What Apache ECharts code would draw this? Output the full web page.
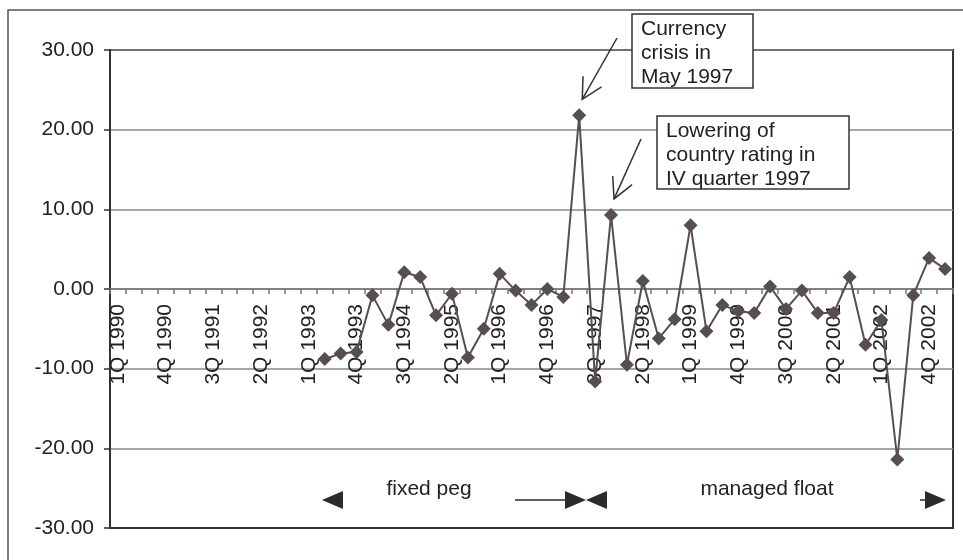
<!DOCTYPE html>
<html>
<head>
<meta charset="utf-8">
<style>
  html, body { margin: 0; padding: 0; background: #fff; }
  #chart { width: 963px; height: 560px; }
</style>
<script src="https://cdn.jsdelivr.net/npm/echarts@6/dist/echarts.min.js"></script>
</head>
<body>
<div id="chart"></div>
<script>
// Quarterly categories, 1Q 1990 .. 1Q 2003
const quarters = [
  '1Q 1990','2Q 1990','3Q 1990','4Q 1990',
  '1Q 1991','2Q 1991','3Q 1991','4Q 1991',
  '1Q 1992','2Q 1992','3Q 1992','4Q 1992',
  '1Q 1993','2Q 1993','3Q 1993','4Q 1993',
  '1Q 1994','2Q 1994','3Q 1994','4Q 1994',
  '1Q 1995','2Q 1995','3Q 1995','4Q 1995',
  '1Q 1996','2Q 1996','3Q 1996','4Q 1996',
  '1Q 1997','2Q 1997','3Q 1997','4Q 1997',
  '1Q 1998','2Q 1998','3Q 1998','4Q 1998',
  '1Q 1999','2Q 1999','3Q 1999','4Q 1999',
  '1Q 2000','2Q 2000','3Q 2000','4Q 2000',
  '1Q 2001','2Q 2001','3Q 2001','4Q 2001',
  '1Q 2002','2Q 2002','3Q 2002','4Q 2002',
  '1Q 2003'
];

// Quarterly values (no observations before 2Q 1993)
const values = [
  null, null, null, null,
  null, null, null, null,
  null, null, null, null,
  null, -8.8, -8.1, -7.9,
  -0.8, -4.5, 2.1, 1.5,
  -3.3, -0.6, -8.6, -5.0,
  1.9, -0.2, -2.0, 0.0,
  -1.0, 21.8, -11.6, 9.3,
  -9.5, 1.0, -6.2, -3.8,
  8.0, -5.3, -2.0, -2.8,
  -3.0, 0.3, -2.5, -0.2,
  -3.0, -3.0, 1.5, -7.0,
  -3.9, -21.4, -0.8, 3.9,
  2.5
];

// Value axis ticks
const yTicks = [-30, -20, -10, 0, 10, 20, 30];

// Event notes and the quarter each one points at
const notes = [
  { lines: ['Currency', 'crisis in', 'May 1997'], quarter: '2Q 1997' },
  { lines: ['Lowering of', 'country rating in', 'IV quarter 1997'], quarter: '4Q 1997' }
];

// Exchange-rate regime labels
const regimes = ['fixed peg', 'managed float'];

const FONT = '"Liberation Sans", Arial, sans-serif';
const LINE = '#574f4d';
const INK = '#222';
const GRID_BOTTOM = 32;

const chart = echarts.init(document.getElementById('chart'), null, { renderer: 'canvas' });

chart.setOption({
  animation: false,
  backgroundColor: '#fff',
  grid: {
    left: 110, top: 50, right: 10, bottom: GRID_BOTTOM,
    outerBoundsMode: 'none',
    containLabel: false,
    show: true, borderColor: '#333', borderWidth: 2, backgroundColor: 'transparent'
  },
  xAxis: {
    type: 'category',
    data: quarters,
    boundaryGap: true,
    position: 'bottom',
    offset: 0,
    axisLine: { onZero: false, lineStyle: { color: '#777', width: 1.5 } },
    axisTick: { show: true, interval: 0, length: 5, lineStyle: { color: '#777', width: 1.5 } },
    axisLabel: {
      interval: 2, rotate: 90, margin: 15,
      fontFamily: FONT, fontSize: 21, color: INK
    },
    splitLine: { show: false }
  },
  yAxis: {
    type: 'value',
    min: yTicks[0], max: yTicks[yTicks.length - 1], interval: 10,
    axisLine: { show: true, lineStyle: { color: '#333', width: 2 } },
    axisTick: { show: true, length: 6, lineStyle: { color: '#333', width: 1.5 } },
    axisLabel: {
      margin: 16, fontFamily: FONT, fontSize: 21, color: INK,
      formatter: v => v.toFixed(2)
    },
    splitLine: { show: true, lineStyle: { color: '#888', width: 1.5 } }
  },
  series: [{
    type: 'line',
    data: values,
    symbol: 'diamond',
    symbolSize: 14,
    showSymbol: true,
    showAllSymbol: true,
    lineStyle: { color: LINE, width: 2 },
    itemStyle: { color: LINE },
    z: 3
  }]
});

// lift the category axis (line, ticks and labels) up to the zero level
const zeroY = chart.convertToPixel({ yAxisIndex: 0 }, 0);
const bottomY = chart.getHeight() - GRID_BOTTOM;
chart.setOption({ xAxis: { offset: -(bottomY - zeroY) } });

// Annotations: note boxes with arrows, regime arrows, outer frame
function arrowHead(tip, tail, len, spread) {
  const ang = Math.atan2(tail[1] - tip[1], tail[0] - tip[0]);
  const a1 = ang + spread, a2 = ang - spread;
  return [
    [tip[0] + len * Math.cos(a1), tip[1] + len * Math.sin(a1)],
    tip,
    [tip[0] + len * Math.cos(a2), tip[1] + len * Math.sin(a2)]
  ];
}

const noteBoxes = [
  { x: 632, y: 14, w: 121, h: 74, tail: [617, 38] },
  { x: 657, y: 116, w: 192, h: 73, tail: [641, 139] }
];

const graphics = [];

// outer chart frame
graphics.push({
  type: 'rect', silent: true, z: 0,
  shape: { x: 8, y: 10, width: 1000, height: 600 },
  style: { fill: null, stroke: '#555', lineWidth: 1.5 }
});

// plot frame bottom edge (the axis line now sits at zero)
graphics.push({
  type: 'line', silent: true, z: 5,
  shape: { x1: 110, y1: bottomY, x2: 953, y2: bottomY },
  style: { stroke: '#333', lineWidth: 2 }
});

notes.forEach((n, i) => {
  const b = noteBoxes[i];
  const idx = quarters.indexOf(n.quarter);
  const p = chart.convertToPixel({ seriesIndex: 0 }, [idx, values[idx]]);
  const tip = [p[0] + 3, p[1] - 16];
  graphics.push({
    type: 'rect', z: 10,
    shape: { x: b.x, y: b.y, width: b.w, height: b.h },
    style: { fill: '#fff', stroke: '#333', lineWidth: 1.5 }
  });
  graphics.push({
    type: 'text', z: 11,
    x: b.x + 9, y: b.y + 3,
    style: {
      text: n.lines.join('\n'), font: '21px ' + FONT, fill: INK,
      lineHeight: 24, align: 'left', verticalAlign: 'top'
    }
  });
  graphics.push({
    type: 'line', z: 10,
    shape: { x1: b.tail[0], y1: b.tail[1], x2: tip[0], y2: tip[1] },
    style: { stroke: '#333', lineWidth: 1.5 }
  });
  graphics.push({
    type: 'polyline', z: 10,
    shape: { points: arrowHead(tip, b.tail, 23, 0.48) },
    style: { stroke: '#333', lineWidth: 1.5, fill: null }
  });
});

// regime arrows
const ay = 500;
function tri(tipX, dir) {
  return {
    type: 'polygon', z: 10,
    shape: { points: [[tipX, ay], [tipX - dir * 21, ay - 9], [tipX - dir * 21, ay + 9]] },
    style: { fill: '#2b2b2b' }
  };
}
graphics.push(tri(322, -1));
graphics.push({
  type: 'line', z: 10,
  shape: { x1: 515, y1: ay, x2: 566, y2: ay },
  style: { stroke: '#2b2b2b', lineWidth: 1.5 }
});
graphics.push(tri(586, 1));
graphics.push(tri(586, -1));
graphics.push({
  type: 'line', z: 10,
  shape: { x1: 920, y1: ay, x2: 926, y2: ay },
  style: { stroke: '#2b2b2b', lineWidth: 1.5 }
});
graphics.push(tri(946, 1));
graphics.push({
  type: 'text', z: 10, x: 429, y: 489,
  style: { text: regimes[0], font: '21px ' + FONT, fill: INK, align: 'center', verticalAlign: 'middle' }
});
graphics.push({
  type: 'text', z: 10, x: 767, y: 489,
  style: { text: regimes[1], font: '21px ' + FONT, fill: INK, align: 'center', verticalAlign: 'middle' }
});

chart.setOption({ graphic: graphics });
</script>
</body>
</html>
